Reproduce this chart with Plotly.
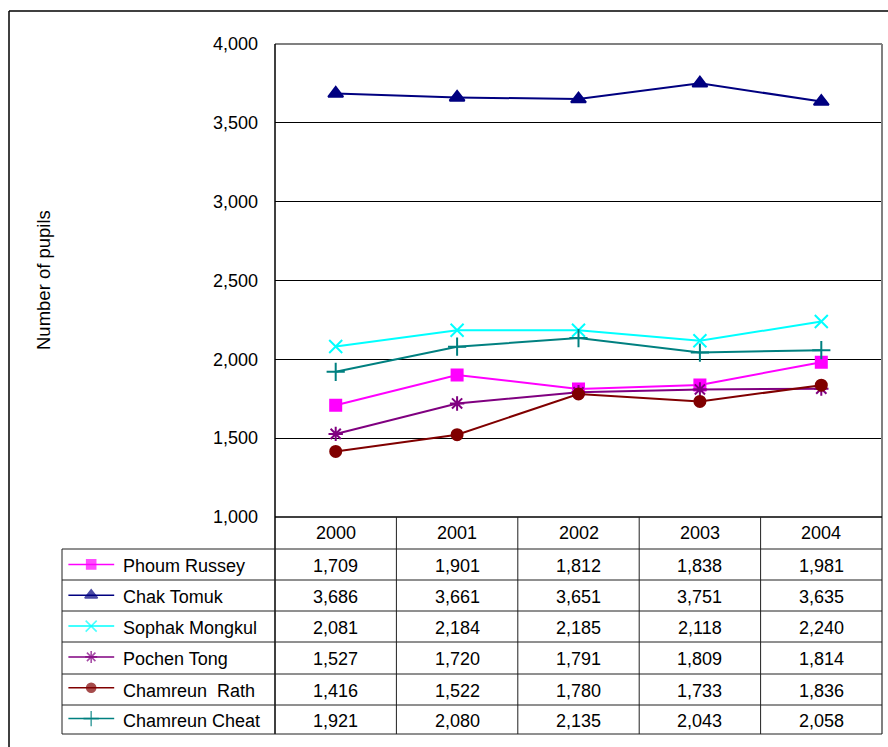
import plotly.graph_objects as go

# Enrolment by school, 2000-2004
years = ["2000", "2001", "2002", "2003", "2004"]
schools = ["Phoum Russey", "Chak Tomuk", "Sophak Mongkul", "Pochen Tong",
           "Chamreun  Rath", "Chamreun Cheat"]
phoum_russey = [1709, 1901, 1812, 1838, 1981]
chak_tomuk = [3686, 3661, 3651, 3751, 3635]
sophak_mongkul = [2081, 2184, 2185, 2118, 2240]
pochen_tong = [1527, 1720, 1791, 1809, 1814]
chamreun_rath = [1416, 1522, 1780, 1733, 1836]
chamreun_cheat = [1921, 2080, 2135, 2043, 2058]
series = [phoum_russey, chak_tomuk, sophak_mongkul, pochen_tong,
          chamreun_rath, chamreun_cheat]

styles = [
    dict(color="#FF00FF", symbol="square", size=11),
    dict(color="#000080", symbol="triangle-up", size=13),
    dict(color="#00FFFF", symbol="x-thin-open", size=13),
    dict(color="#800080", symbol="asterisk-open", size=12),
    dict(color="#800000", symbol="circle", size=11),
    dict(color="#008080", symbol="cross-thin-open", size=13),
]

W, H = 888, 747
FONT = "Arial, Liberation Sans, sans-serif"


def px(x):
    return x / W


def py(y):
    return 1 - y / H


# pixel layout of the chart and the data table under it
PLOT_L, PLOT_R, PLOT_T, PLOT_B = 275, 882, 44, 517
TAB_L = 62
ROW_EDGES = [517, 549, 580, 611, 642, 674, 705, 734]

fig = go.Figure()

for name, vals, st in zip(schools, series, styles):
    fig.add_trace(go.Scatter(
        x=list(range(len(years))), y=vals, name=name, mode="lines+markers",
        line=dict(color=st["color"], width=2),
        marker=dict(symbol=st["symbol"], size=st["size"], color=st["color"],
                    line=dict(color=st["color"], width=2)),
        showlegend=False, hoverinfo="y+name",
    ))

# legend keys drawn in the first column of the table (row index on y2)
for i, st in enumerate(styles):
    fig.add_trace(go.Scatter(
        x=[0.03, 0.137, 0.245], y=[i, i, i], mode="lines+markers",
        line=dict(color=st["color"], width=1.5),
        marker=dict(symbol=st["symbol"], size=[0, st["size"] - 2, 0],
                    color=st["color"], line=dict(color=st["color"], width=1.6)),
        showlegend=False, hoverinfo="skip", xaxis="x2", yaxis="y2",
    ))

shapes = []


def hline(y, x0, x1, color="#000000", w=1):
    shapes.append(dict(type="line", xref="paper", yref="paper",
                       x0=px(x0), x1=px(x1), y0=py(y), y1=py(y),
                       line=dict(color=color, width=w)))


def vline(x, y0, y1, color="#000000", w=1):
    shapes.append(dict(type="line", xref="paper", yref="paper",
                       x0=px(x), x1=px(x), y0=py(y0), y1=py(y1),
                       line=dict(color=color, width=w)))


# outer frame
hline(11, 9, 888, w=1.5)
vline(9, 11, 747, w=1.5)
# plot area border (top/right)
hline(PLOT_T, PLOT_L, PLOT_R, color="#808080", w=2)
vline(PLOT_R, PLOT_T, ROW_EDGES[-1], color="#808080", w=2)
# table grid
vline(PLOT_L, PLOT_T, ROW_EDGES[-1], w=1.5)
hline(ROW_EDGES[0], PLOT_L, PLOT_R, w=1.5)
for y in ROW_EDGES[1:]:
    hline(y, TAB_L, PLOT_R, color="#202020", w=1)
vline(TAB_L, ROW_EDGES[1], ROW_EDGES[-1], color="#202020", w=1)
col_w = (PLOT_R - PLOT_L) / len(years)
for k in range(1, len(years)):
    vline(PLOT_L + k * col_w, ROW_EDGES[0], ROW_EDGES[-1], color="#202020", w=1)

annotations = []
tfont = dict(family=FONT, size=18, color="#000000")
# y-axis title
annotations.append(dict(x=px(43), xref="paper", y=py(280), yref="paper",
                        text="Number of pupils", textangle=-90, showarrow=False,
                        font=dict(family=FONT, size=18.5, color="#000000"),
                        xanchor="center", yanchor="middle"))
# header row with years
for j, yr in enumerate(years):
    annotations.append(dict(x=j, xref="x", y=py((ROW_EDGES[0] + ROW_EDGES[1]) / 2),
                            yref="paper", text=yr, showarrow=False, font=tfont,
                            xanchor="center", yanchor="middle"))
# value rows and school labels
for i, (name, vals) in enumerate(zip(schools, series)):
    yc = py((ROW_EDGES[i + 1] + ROW_EDGES[i + 2]) / 2 + 1)
    annotations.append(dict(x=px(121), xref="paper", y=yc, yref="paper",
                            text=name.replace("  ", "&nbsp; "), showarrow=False,
                            font=tfont, xanchor="left", yanchor="middle"))
    for j, v in enumerate(vals):
        annotations.append(dict(x=j, xref="x", y=yc, yref="paper",
                                text=f"{v:,}", showarrow=False, font=tfont,
                                xanchor="center", yanchor="middle"))

fig.update_layout(
    width=W, height=H, autosize=False,
    margin=dict(l=0, r=0, t=0, b=0, pad=0),
    paper_bgcolor="white", plot_bgcolor="white",
    font=dict(family=FONT, size=18, color="#000000"),
    xaxis=dict(domain=[px(PLOT_L), px(PLOT_R)], range=[-0.5, len(years) - 0.5],
               showticklabels=False, ticks="", automargin=False,
               showgrid=False, zeroline=False, showline=False, fixedrange=True),
    yaxis=dict(domain=[py(PLOT_B), py(PLOT_T)], range=[1000, 4000],
               dtick=500, tickformat=",", showgrid=True,
               gridcolor="#000000", gridwidth=1, zeroline=False,
               showline=False, ticks="", ticklabelstandoff=16, automargin=False,
               tickfont=dict(family=FONT, size=18, color="#000000"),
               fixedrange=True),
    xaxis2=dict(domain=[px(TAB_L), px(PLOT_L)], range=[0, 1], visible=False,
                fixedrange=True, automargin=False),
    yaxis2=dict(domain=[py(ROW_EDGES[-1]), py(ROW_EDGES[1])],
                range=[len(schools) - 0.5, -0.5], visible=False, fixedrange=True,
                anchor="x2", automargin=False),
    shapes=shapes,
    annotations=annotations,
)

fig.write_html("out.html")
